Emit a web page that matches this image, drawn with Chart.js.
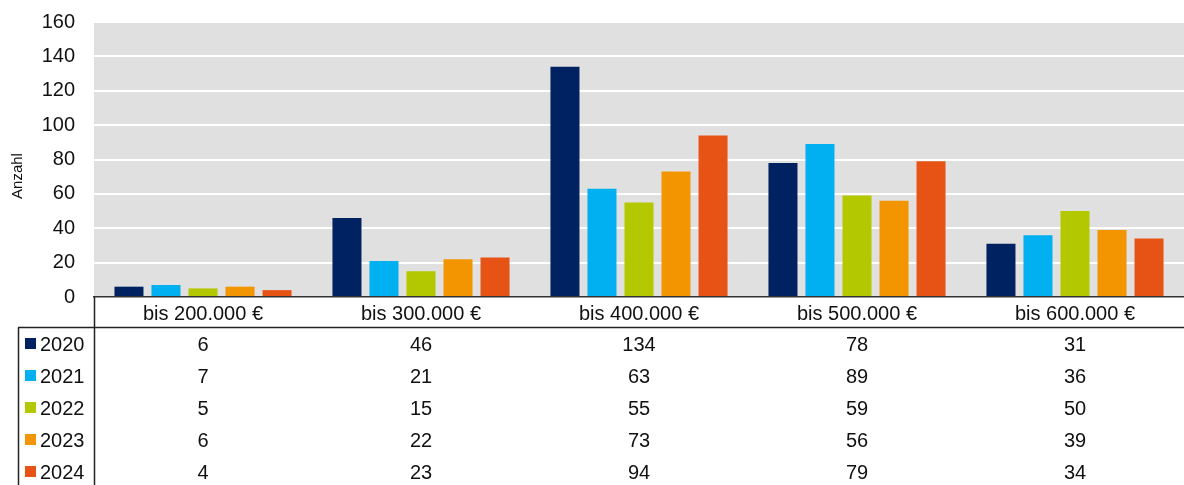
<!DOCTYPE html>
<html>
<head>
<meta charset="utf-8">
<script src="https://cdn.jsdelivr.net/npm/chart.js@4/dist/chart.umd.min.js"></script>
<style>
body { margin:0; background:#fff; }
#wrap { position:relative; width:1184px; height:485px; overflow:hidden; font-family:"Liberation Sans", Arial, sans-serif; }
#wrap canvas { position:absolute; left:0; top:0; }
.cell { position:absolute; font-size:20px; color:#111; white-space:nowrap; transform:translate(-50%,-50%); line-height:1; }
.key { position:absolute; width:11px; height:11px; }
.year { position:absolute; font-size:20px; color:#111; white-space:nowrap; transform:translateY(-50%); line-height:1; }
.ytitle { position:absolute; left:16px; top:176px; font-size:15px; color:#111; white-space:nowrap; line-height:1; transform:translate(-50%,-50%) rotate(-90deg); }
</style>
</head>
<body>
<div id="wrap"><canvas id="chart" width="1184" height="485"></canvas><div class="ytitle">Anzahl</div><div id="table"></div></div>
<script>
var categories = ['bis 200.000 €', 'bis 300.000 €', 'bis 400.000 €', 'bis 500.000 €', 'bis 600.000 €'];
var years = ['2020', '2021', '2022', '2023', '2024'];
var colors = ['#012260', '#00b0f0', '#b4c800', '#f39500', '#e75315'];

var values2020 = [6, 46, 134, 78, 31];
var values2021 = [7, 21, 63, 89, 36];
var values2022 = [5, 15, 55, 59, 50];
var values2023 = [6, 22, 73, 56, 39];
var values2024 = [4, 23, 94, 79, 34];
var seriesValues = [values2020, values2021, values2022, values2023, values2024];

var yMin = 0, yMax = 160, yStep = 20;

//layout of the data table under the plot
var headerBottom = 327.5;
var rowHeight = 32;
var keyLeft = 18;

Chart.defaults.font.family = '"Liberation Sans", Arial, sans-serif';
Chart.defaults.color = '#111';

//grey plot background
var plotBackground = {
	id: 'plotBackground',
	beforeDraw: function(chart){
		var a = chart.chartArea;
		var ctx = chart.ctx;
		ctx.save();
		ctx.fillStyle = '#e0e0e0';
		ctx.fillRect(a.left, a.top, a.right - a.left, a.bottom - a.top);
		ctx.restore();
	}
};

//lines of the data table
var tableLines = {
	id: 'tableLines',
	afterDraw: function(chart){
		var a = chart.chartArea;
		var ctx = chart.ctx;
		ctx.save();
		ctx.strokeStyle = '#222';
		ctx.lineWidth = 1.5;
		ctx.beginPath();
		ctx.moveTo(keyLeft, headerBottom);
		ctx.lineTo(chart.width, headerBottom);
		ctx.moveTo(a.left + 0.5, a.bottom);
		ctx.lineTo(a.left + 0.5, chart.height);
		ctx.moveTo(keyLeft + 0.5, headerBottom);
		ctx.lineTo(keyLeft + 0.5, chart.height);
		ctx.stroke();
		ctx.restore();
	}
};

var datasets = [];
for (var i = 0; i < years.length; i++){
	datasets.push({
		label: years[i],
		data: seriesValues[i],
		backgroundColor: colors[i],
		categoryPercentage: 0.849,
		barPercentage: 0.784
	});
}

var chart = new Chart(document.getElementById('chart'), {
	type: 'bar',
	data: { labels: categories, datasets: datasets },
	options: {
		responsive: false,
		animation: false,
		layout: { padding: { top: 22, left: 0, right: 0, bottom: 0 } },
		plugins: { legend: { display: false }, tooltip: { enabled: false } },
		scales: {
			x: {
				grid: { display: false },
				border: { display: true, color: '#333', width: 1.5 },
				ticks: { font: { size: 20 }, padding: -3, maxRotation: 0 },
				afterFit: function(scale){ scale.height = 188; }
			},
			y: {
				min: yMin,
				max: yMax,
				grid: {
					drawTicks: true,
					tickLength: 19,
					tickColor: 'rgba(0,0,0,0)',
					lineWidth: 2,
					color: function(c){ return c.tick && c.tick.value === 0 ? 'rgba(0,0,0,0)' : '#ffffff'; }
				},
				border: { display: false },
				ticks: { stepSize: yStep, font: { size: 20 }, padding: 0 },
				afterFit: function(scale){ scale.width = 94; }
			}
		}
	},
	plugins: [plotBackground, tableLines]
});

//data table rows: colour key, year and the values per category
function buildTable(chart){
	var table = document.getElementById('table');
	var html = '';
	for (var r = 0; r < years.length; r++){
		var cy = headerBottom + rowHeight / 2 + r * rowHeight;
		html += '<div class="key" style="left:25px;top:' + (cy - 5.5) + 'px;background:' + colors[r] + '"></div>';
		html += '<div class="year" style="left:40px;top:' + cy + 'px">' + years[r] + '</div>';
		for (var c = 0; c < categories.length; c++){
			var cx = chart.scales.x.getPixelForValue(c);
			html += '<div class="cell" style="left:' + cx + 'px;top:' + cy + 'px">' + seriesValues[r][c] + '</div>';
		}
	}
	table.innerHTML = html;
}

buildTable(chart);
</script>
</body>
</html>
